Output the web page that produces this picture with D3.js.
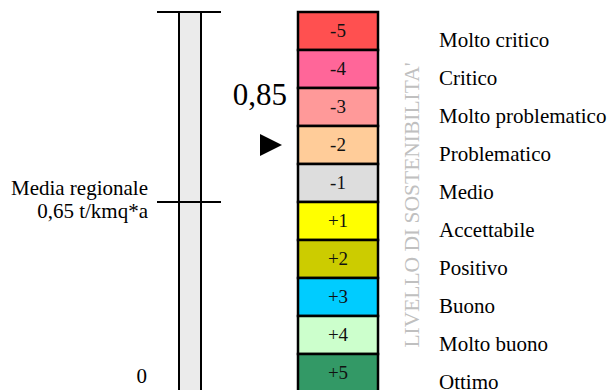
<!DOCTYPE html>
<html><head><meta charset="utf-8">
<script src="https://cdn.jsdelivr.net/npm/d3@7"></script>
<style>body{margin:0;background:#fff}svg{display:block}</style>
</head><body>
<svg id="c" width="611" height="390" font-family="'Liberation Serif', 'Times New Roman', Times, serif"></svg>
<script>
const levels = ["-5","-4","-3","-2","-1","+1","+2","+3","+4","+5"];
const levelLabels = ["Molto critico","Critico","Molto problematico","Problematico","Medio","Accettabile","Positivo","Buono","Molto buono","Ottimo"];
const levelColors = ["#ff5050","#ff6699","#ff9999","#ffcc99","#dddddd","#ffff00","#cccc00","#00ccff","#ccffcc","#339966"];
const scaleTicks = [0, 0.65, 1.3];
const regionalMean = 0.65;
const regionalLabel = ["Media regionale","0,65 t/kmq*a"];
const currentValue = "0,85";
const currentLevel = "-2";
const axisTitle = "LIVELLO DI SOSTENIBILITA'";

const FF = "'Liberation Serif', 'Times New Roman', Times, serif";
const svg = d3.select("#c");
const y = d3.scaleBand().domain(levels).range([12, 392]).paddingInner(0);
const v = d3.scaleLinear().domain([0, 1.3]).range([392, 12]);

// gray bar
svg.append("rect").attr("x",179).attr("y",v(1.3)).attr("width",22).attr("height",v(0)-v(1.3)).attr("fill","#ebebeb");
svg.append("line").attr("x1",179).attr("x2",179).attr("y1",v(1.3)).attr("y2",392).attr("stroke","#000").attr("stroke-width",2);
svg.append("line").attr("x1",201).attr("x2",201).attr("y1",v(1.3)).attr("y2",392).attr("stroke","#000").attr("stroke-width",2);
[1.3, regionalMean].forEach(t=>{
  svg.append("line").attr("x1",157).attr("x2",221).attr("y1",v(t)).attr("y2",v(t)).attr("stroke","#000").attr("stroke-width",2);
});
svg.append("text").attr("font-family",FF).attr("x",148).attr("y",v(regionalMean)-7).attr("text-anchor","end").attr("font-size",21).text(regionalLabel[0]);
svg.append("text").attr("font-family",FF).attr("x",148).attr("y",v(regionalMean)+16).attr("text-anchor","end").attr("font-size",21).text(regionalLabel[1]);
svg.append("text").attr("font-family",FF).attr("x",147).attr("y",v(0)-9).attr("text-anchor","end").attr("font-size",21).text(scaleTicks[0]);

// level blocks
const g = svg.append("g");
g.selectAll("rect").data(levels).join("rect")
  .attr("x",298).attr("y",d=>y(d)).attr("width",80).attr("height",y.bandwidth())
  .attr("fill",(d,i)=>levelColors[i]).attr("stroke","#000").attr("stroke-width",2.5);
g.selectAll("text.n").data(levels).join("text").attr("class","n").attr("font-family",FF)
  .attr("x",338).attr("y",d=>y(d)+y.bandwidth()/2+6).attr("text-anchor","middle").attr("font-size",19).attr("fill","#111").text(d=>d);
g.selectAll("text.l").data(levelLabels).join("text").attr("class","l").attr("font-family",FF)
  .attr("x",439).attr("y",(d,i)=>y(levels[i])+y.bandwidth()-3).attr("font-size",21).attr("fill","#000").text(d=>d);

// axis title
svg.append("text").attr("font-family",FF).attr("transform","translate(419,205) rotate(-90)").attr("text-anchor","middle")
  .attr("font-size",21.5).attr("fill","#c0c0c0").text(axisTitle);

// current value pointer
const cy = y(currentLevel)+y.bandwidth()/2;
svg.append("path").attr("d",`M260,${cy-11}L282,${cy}L260,${cy+11}Z`).attr("fill","#000");
svg.append("text").attr("font-family",FF).attr("x",287).attr("y",105).attr("text-anchor","end").attr("font-size",31).text(currentValue);
</script>
</body></html>
